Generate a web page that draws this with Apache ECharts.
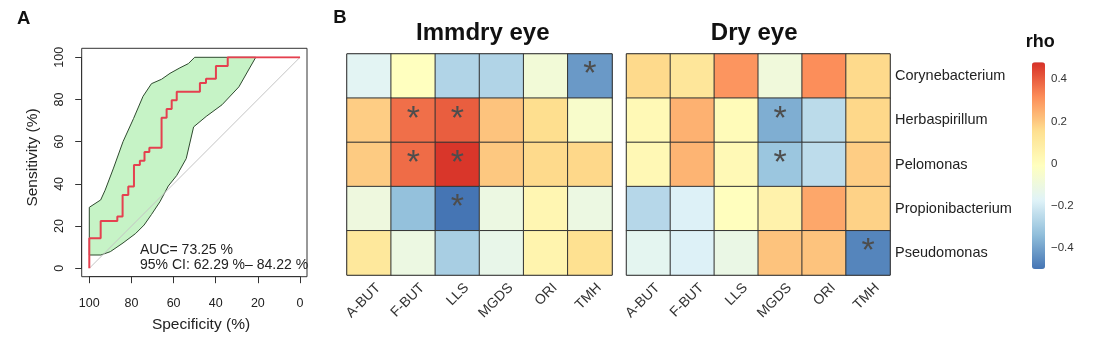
<!DOCTYPE html>
<html><head><meta charset="utf-8">
<script src="https://cdn.jsdelivr.net/npm/echarts@6/dist/echarts.min.js"></script>
<style>html,body{margin:0;padding:0;background:#fff}#c{width:1101px;height:351px}</style>
</head><body><div id="c"></div>
<script>
const FONT = '"Liberation Sans", Arial, Helvetica, sans-serif';

// ---- Panel A: ROC curve (specificity %, sensitivity %) ----
const rocCurve = [[100,0],[100,14.3],[94.6,14.3],[94.6,22.4],[86.7,22.4],[86.7,24.5],[84.2,24.5],[84.2,34.7],[81.5,34.7],[81.5,38.8],[78.8,38.8],[78.8,49],[76,49],[76,51],[73.8,51],[73.8,55.1],[71.5,55.1],[71.5,57.1],[65.7,57.1],[65.7,71.4],[63.3,71.4],[63.3,75.5],[60.9,75.5],[60.9,79.6],[58.5,79.6],[58.5,83.7],[47.5,83.7],[47.5,87.8],[44.6,87.8],[44.6,89.8],[39.9,89.8],[39.9,95.9],[34.3,95.9],[34.3,100],[0,100]];
const ciUpper = [[100,28.9],[94.6,32.4],[92.5,37],[88.5,47.5],[84,60],[79,71],[74.5,81.5],[70.5,87.5],[65.7,89.6],[61.7,92.4],[57,95],[53,97],[50,100]];
const ciLower = [[100,6.3],[94.5,6.3],[90,7.9],[84,12],[78,16.5],[74,20.5],[70.5,25.5],[66.5,31.5],[62.5,39],[58.5,44],[54,52],[50.5,67],[44.5,72],[37,77.5],[29,86],[21,100]];
const chanceLine = [[100,0],[0,100]];
const aucValue = 73.25, ciLowValue = 62.29, ciHighValue = 84.22;

// ---- Panel B: correlation heatmaps ----
const measures = ['A-BUT','F-BUT','LLS','MGDS','ORI','TMH'];
const genera = ['Corynebacterium','Herbaspirillum','Pelomonas','Propionibacterium','Pseudomonas'];
const immdryRho = [
  [-0.16, -0.01, -0.27, -0.27, -0.08, -0.42],
  [ 0.19,  0.37,  0.40,  0.21,  0.155,-0.045],
  [ 0.195, 0.375, 0.47,  0.20,  0.165, 0.17],
  [-0.10, -0.33, -0.505,-0.11,  0.035,-0.11],
  [ 0.11, -0.11, -0.29, -0.13,  0.05,  0.15]
];
const dryRho = [
  [ 0.165, 0.12,  0.30, -0.09,  0.315, 0.165],
  [ 0.02,  0.245, 0.01, -0.375,-0.25,  0.17],
  [ 0.025, 0.24,  0.02, -0.315,-0.245, 0.19],
  [-0.26, -0.18, -0.005, 0.06,  0.265, 0.18],
  [-0.15, -0.18, -0.12,  0.21,  0.21, -0.465]
];
const immdrySig = [[5,0],[1,1],[2,1],[1,2],[2,2],[2,3]];
const drySig = [[3,1],[3,2],[5,4]];
const rhoMin = -0.5, rhoMax = 0.48;
const rhoPalette = ['#4575B4','#91BFDB','#E0F3F8','#FFFFBF','#FEE090','#FC8D59','#D73027'];

function heatData(mat, sig) {
  const out = [];
  mat.forEach((row, r) => row.forEach((v, c) => {
    const s = sig.some(p => p[0] === c && p[1] === r) ? 1 : 0;
    out.push([c, r, v, s]);
  }));
  return out;
}

const chart = echarts.init(document.getElementById('c'), null, {renderer: 'canvas'});
const txt = (text, x, y, size, opts = {}) => Object.assign({
  type: 'text', x, y, silent: true,
  style: Object.assign({text, x: 0, y: 0, fill: opts.fill || '#222', font: (opts.weight || 'normal') + ' ' + size + 'px ' + FONT,
    align: opts.align || 'center', verticalAlign: 'middle', textAlign: opts.align || 'center', textVerticalAlign: 'middle'})
}, opts.rotation ? {rotation: opts.rotation} : {});

const heatAxisLabel = {rotate: 45, fontSize: 14, color: '#333', fontFamily: FONT, margin: 10, align: 'right', verticalAlign: 'top', padding: [0, -6, 0, 0]};
const heatSeries = (idx, data) => ({
  type: 'heatmap', xAxisIndex: idx, yAxisIndex: idx, data,
  itemStyle: {borderColor: '#333', borderWidth: 1},
  label: {show: true, formatter: p => p.data[3] ? '*' : '', fontSize: 34, color: '#4d4d4d', fontFamily: FONT, textBorderWidth: 0, offset: [0, -1]},
  emphasis: {disabled: true}, silent: true
});

chart.setOption({
  animation: false,
  backgroundColor: '#fff',
  grid: [
    {left: 81.7, top: 48.3, width: 225.3, height: 228.4, show: true, borderColor: '#333', borderWidth: 1, backgroundColor: 'transparent'},
    {left: 89.3, top: 57.3, width: 210.7, height: 211},
    {left: 347, top: 54, width: 265, height: 221, show: true, borderColor: '#333', borderWidth: 1, backgroundColor: 'transparent'},
    {left: 626.5, top: 54, width: 263.5, height: 221, show: true, borderColor: '#333', borderWidth: 1, backgroundColor: 'transparent'},
    {left: 1032, top: 62.3, width: 13, height: 206.7}
  ],
  xAxis: [
    {gridIndex: 0, type: 'value', show: false, min: 0, max: 1},
    {gridIndex: 1, type: 'value', min: 0, max: 100, interval: 20, inverse: true, position: 'bottom', offset: 8.4,
      axisLine: {show: true, onZero: false, lineStyle: {color: '#333', width: 1}}, axisTick: {show: true, length: 6.5, lineStyle: {color: '#333'}},
      axisLabel: {fontSize: 12.5, color: '#222', fontFamily: FONT, margin: 20}, splitLine: {show: false}},
    {gridIndex: 2, type: 'category', data: measures, axisLine: {show: false}, axisTick: {show: false}, splitLine: {show: false}, axisLabel: heatAxisLabel},
    {gridIndex: 3, type: 'category', data: measures, axisLine: {show: false}, axisTick: {show: false}, splitLine: {show: false}, axisLabel: heatAxisLabel},
    {gridIndex: 4, type: 'value', show: false, min: 0, max: 1}
  ],
  yAxis: [
    {gridIndex: 0, type: 'value', show: false, min: 0, max: 1},
    {gridIndex: 1, type: 'value', min: 0, max: 100, interval: 20, position: 'left', offset: 7.6,
      axisLine: {show: true, onZero: false, lineStyle: {color: '#333', width: 1}}, axisTick: {show: true, length: 6.5, lineStyle: {color: '#333'}},
      axisLabel: {fontSize: 12.5, color: '#222', fontFamily: FONT, margin: 16, rotate: 90}, splitLine: {show: false}},
    {gridIndex: 2, type: 'category', data: genera, inverse: true, axisLine: {show: false}, axisTick: {show: false}, axisLabel: {show: false}, splitLine: {show: false}},
    {gridIndex: 3, type: 'category', data: genera, inverse: true, position: 'right', axisLine: {show: false}, axisTick: {show: false}, splitLine: {show: false},
      axisLabel: {show: true, fontSize: 14.5, color: '#222', fontFamily: FONT, margin: 5}},
    {gridIndex: 4, type: 'value', min: rhoMin, max: rhoMax, interval: 0.1, position: 'right', axisLine: {show: false}, axisTick: {show: false}, splitLine: {show: false},
      axisLabel: {fontSize: 11.5, color: '#333', fontFamily: FONT, margin: 6, showMaxLabel: false, showMinLabel: false,
        formatter: v => { const k = Math.round(v * 10); if (k % 2 !== 0) return ''; if (k === 0) return '0'; return (k < 0 ? '\u2212' : '') + Math.abs(k / 10).toFixed(1); }}}
  ],
  visualMap: [{
    type: 'continuous', min: rhoMin, max: rhoMax, seriesIndex: [3, 4], dimension: 2, calculable: false, hoverLink: false,
    inRange: {color: rhoPalette}, left: 1032, top: 62.3, itemWidth: 13, itemHeight: 206.7, padding: 0, text: null, showLabel: false,
    textStyle: {fontSize: 0}
  }],
  series: [
    {type: 'line', xAxisIndex: 1, yAxisIndex: 1, data: chanceLine, symbol: 'none', silent: true, lineStyle: {color: '#C4C4C4', width: 1}},
    {type: 'custom', xAxisIndex: 1, yAxisIndex: 1, data: [[0, 0]], silent: true,
      renderItem: (params, api) => {
        const pts = ciUpper.map(p => api.coord(p)).concat(ciLower.slice().reverse().map(p => api.coord(p)));
        return {type: 'polygon', shape: {points: pts}, style: {fill: '#C6F3C6', stroke: '#2f4a2f', lineWidth: 1}};
      }},
    {type: 'line', xAxisIndex: 1, yAxisIndex: 1, data: rocCurve, symbol: 'none', silent: true, lineStyle: {color: '#E5404F', width: 2}},
    heatSeries(2, heatData(immdryRho, immdrySig)),
    heatSeries(3, heatData(dryRho, drySig))
  ],
  graphic: [
    txt('A', 23.8, 18.5, 18.5, {weight: 'bold', fill: '#111'}),
    txt('B', 340, 18, 18.5, {weight: 'bold', fill: '#111'}),
    txt('Specificity (%)', 201, 325, 15.5),
    txt('Sensitivity (%)', 32.3, 157.5, 15.5, {rotation: Math.PI / 2}),
    txt('AUC= ' + aucValue.toFixed(2) + ' %', 140, 250, 14, {align: 'left'}),
    txt('95% CI: ' + ciLowValue.toFixed(2) + ' %\u2013 ' + ciHighValue.toFixed(2) + ' %', 140, 265.5, 14, {align: 'left'}),
    txt('Immdry eye', 482.8, 33.3, 24, {weight: 'bold', fill: '#111'}),
    txt('Dry eye', 754.2, 33.3, 24, {weight: 'bold', fill: '#111'}),
    txt('rho', 1040.3, 41.8, 18, {weight: 'bold', fill: '#111'})
  ]
});
</script></body></html>
